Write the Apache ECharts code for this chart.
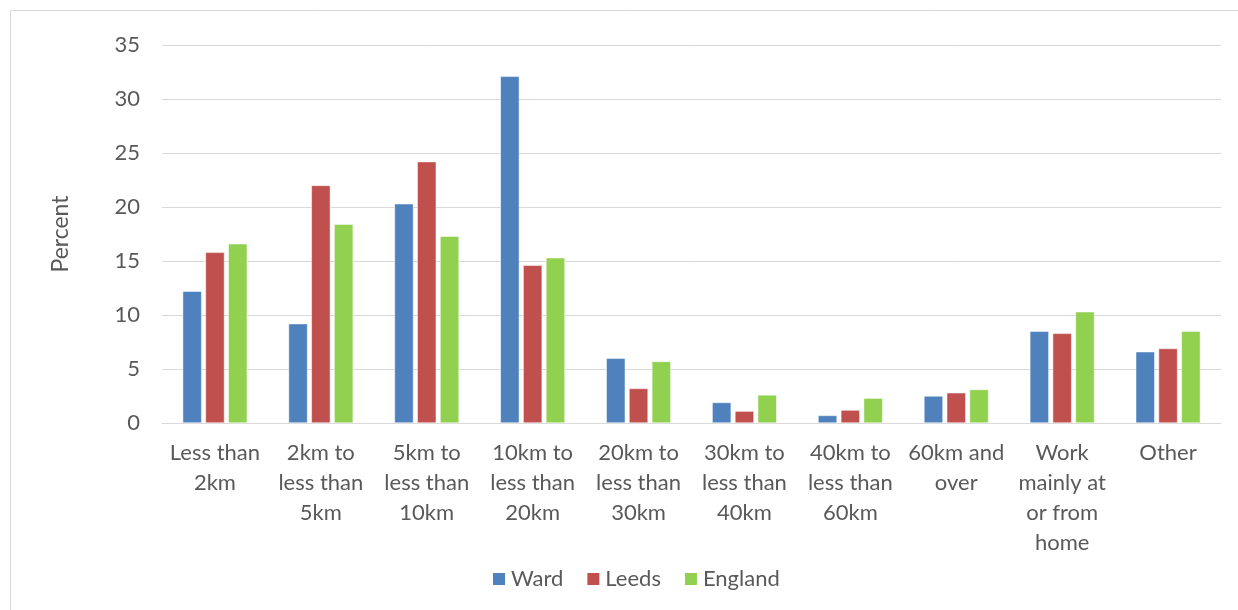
<!DOCTYPE html>
<html>
<head>
<meta charset="utf-8">
<script src="https://cdn.jsdelivr.net/npm/echarts@6/dist/echarts.min.js"></script>
<style>
html,body{margin:0;padding:0;background:#fff;}
#chart{width:1238px;height:610px;}
</style>
</head>
<body>
<div id="chart"></div>
<script>
const categories = [
  "Less than\n2km",
  "2km to\nless than\n5km",
  "5km to\nless than\n10km",
  "10km to\nless than\n20km",
  "20km to\nless than\n30km",
  "30km to\nless than\n40km",
  "40km to\nless than\n60km",
  "60km and\nover",
  "Work\nmainly at\nor from\nhome",
  "Other"
];
const ward    = [12.2, 9.2, 20.3, 32.1, 6.0, 1.9, 0.7, 2.5, 8.5, 6.6];
const leeds   = [15.8, 22.0, 24.2, 14.6, 3.2, 1.1, 1.2, 2.8, 8.3, 6.9];
const england = [16.6, 18.4, 17.3, 15.3, 5.7, 2.6, 2.3, 3.1, 10.3, 8.5];
const seriesNames = ["Ward", "Leeds", "England"];
const colors = ["#4F81BD", "#C0504D", "#92D050"];

const font = "Lato, 'Open Sans', sans-serif";
const textColor = "#595959";

const chart = echarts.init(document.getElementById('chart'), null, {renderer: 'canvas'});
const mk = (name, data, color) => ({
  name: name,
  type: 'bar',
  data: data,
  barGap: '20%',
  barCategoryGap: '39%',
  itemStyle: {color: color, borderColor: '#ffffff', borderWidth: 0.5},
  emphasis: {disabled: true},
  animation: false
});
chart.setOption({
  animation: false,
  backgroundColor: '#ffffff',
  graphic: [{
    type: 'rect',
    shape: {x: 10.5, y: 10.5, width: 1240, height: 620},
    style: {fill: 'none', stroke: '#d9d9d9', lineWidth: 1},
    silent: true
  }],
  grid: {left: 162, right: 17, top: 45, bottom: 187, containLabel: false},
  legend: {
    data: seriesNames,
    top: 563,
    left: 486,
    itemWidth: 14,
    itemHeight: 14,
    itemGap: 22,
    icon: 'rect',
    textStyle: {fontFamily: font, fontSize: 22, color: textColor}
  },
  xAxis: {
    type: 'category',
    data: categories,
    axisLine: {show: true, lineStyle: {color: '#d9d9d9', width: 1}},
    axisTick: {show: false},
    axisLabel: {
      interval: 0,
      margin: 15,
      fontFamily: font,
      fontSize: 22,
      lineHeight: 30,
      color: textColor,
      align: 'center'
    }
  },
  yAxis: {
    type: 'value',
    min: 0,
    max: 35,
    interval: 5,
    name: 'Percent',
    nameLocation: 'middle',
    nameGap: 90,
    nameRotate: 90,
    nameTextStyle: {fontFamily: font, fontSize: 23, color: textColor},
    axisLine: {show: false},
    axisTick: {show: false},
    splitLine: {show: true, lineStyle: {color: '#d9d9d9', width: 1}},
    axisLabel: {margin: 22, fontFamily: font, fontSize: 22, color: textColor}
  },
  series: [
    mk(seriesNames[0], ward, colors[0]),
    mk(seriesNames[1], leeds, colors[1]),
    mk(seriesNames[2], england, colors[2])
  ]
});
</script>
</body>
</html>
